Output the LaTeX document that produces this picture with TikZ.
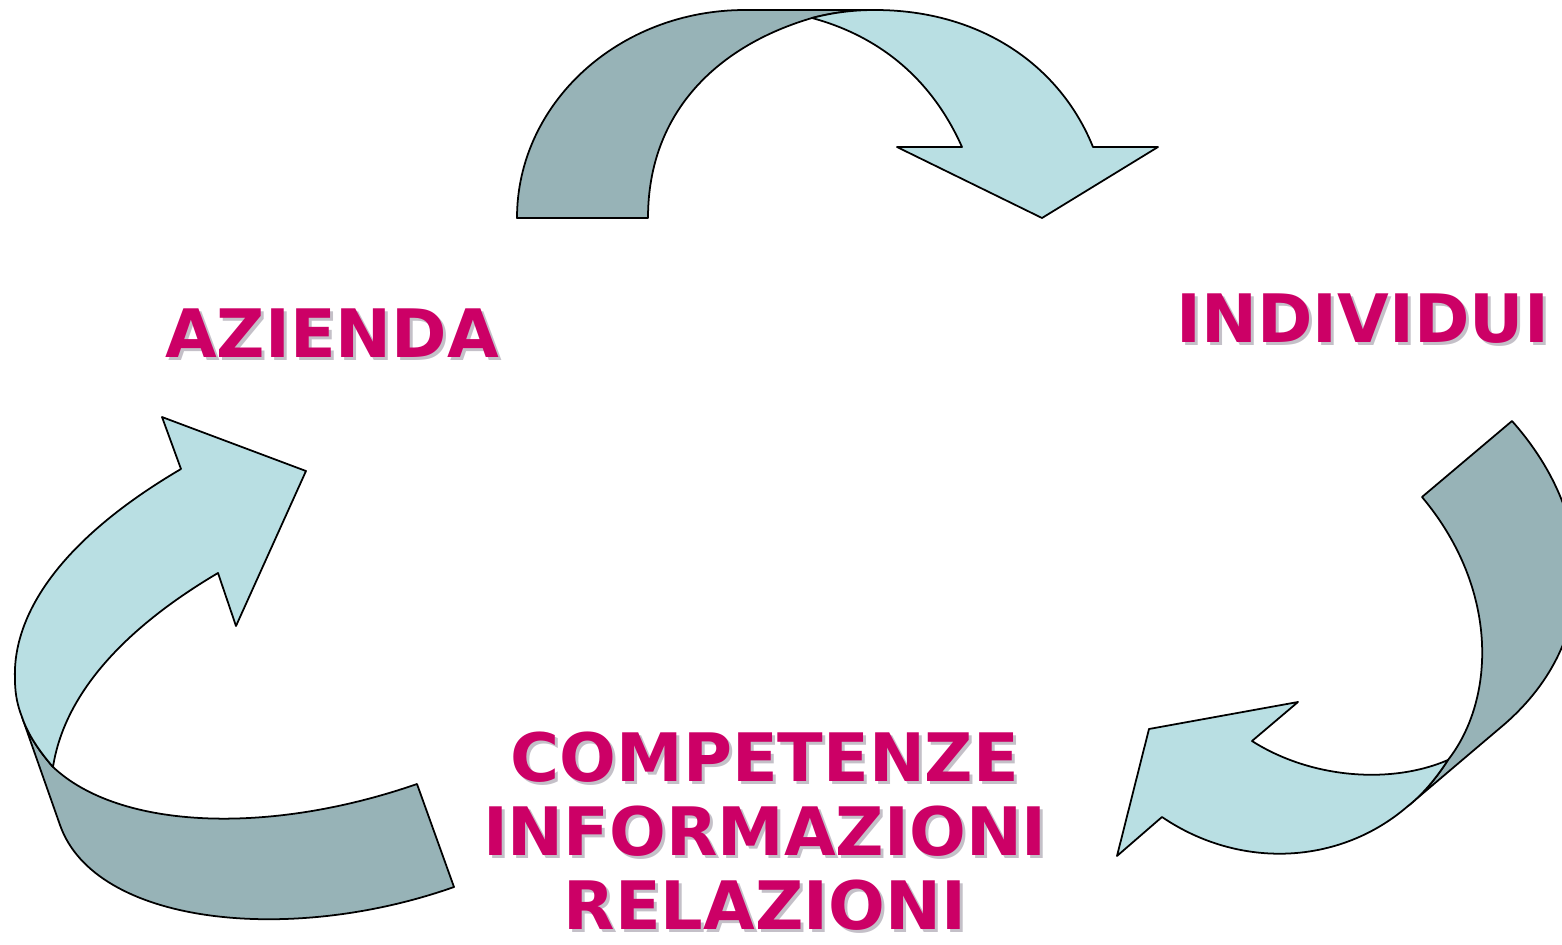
\documentclass[tikz,border=0pt]{standalone}
\usepackage{fontspec}
\setmainfont{DejaVu Sans}
\usepackage{xcolor}
\usepackage{tikz}
\usetikzlibrary{positioning, calc}

\definecolor{ribbonlight}{HTML}{B9DFE3}
\definecolor{ribbondark}{HTML}{97B3B7}
\definecolor{labelpink}{HTML}{CC0066}
\definecolor{labelshade}{HTML}{C4C0C8}

\begin{document}
\begin{tikzpicture}[x=0.01cm, y=-0.01cm,
    dark/.style={draw=black, line width=0.5pt, fill=ribbondark, line join=round},
    light/.style={draw=black, line width=0.5pt, fill=ribbonlight, line join=round},
    lbl/.style={text=labelpink, font=\fontsize{19}{21}\selectfont\bfseries, align=center, inner sep=0pt, text depth=0pt},
    lblshade/.style={lbl, text=labelshade, xshift=0.03cm, yshift=-0.03cm}
]
    \useasboundingbox (0,0) rectangle (1562,945);

    % top arrow: azienda -> individui
    \draw[dark] (517,218) .. controls (517,103) and (619,10) .. (745,10) -- (875,10)
        .. controls (855,10) and (835,12) .. (812,18)
        .. controls (720,45) and (648,110) .. (648,218) -- cycle;
    \draw[light] (875,10) .. controls (980,10) and (1060,65) .. (1093,147)
        -- (1158,147) -- (1042,218) -- (897,147) -- (962,147)
        .. controls (930,75) and (875,35) .. (812,18)
        .. controls (835,12) and (855,10) .. (875,10) -- cycle;

    % right arrow: individui -> competenze
    \draw[dark] (1512,421) -- (1422,497)
        .. controls (1500,590) and (1495,700) .. (1448,760)
        .. controls (1435,780) and (1422,795) .. (1408,806)
        -- (1500,728) .. controls (1600,645) and (1600,520) .. (1512,421) -- cycle;
    \draw[light] (1408,806) .. controls (1340,865) and (1240,870) .. (1162,817)
        -- (1117,856) -- (1149,729) -- (1298,702) -- (1252,741)
        .. controls (1310,778) and (1390,785) .. (1448,760)
        .. controls (1435,780) and (1422,795) .. (1408,806) -- cycle;

    % left arrow: competenze -> azienda
    \draw[dark] (22,717) -- (60,825) .. controls (95,925) and (290,945) .. (454,887)
        -- (417,784) .. controls (270,835) and (120,830) .. (53,767)
        .. controls (40,752) and (28,735) .. (22,717) -- cycle;
    \draw[light] (53,767) .. controls (65,690) and (130,625) .. (218,573)
        -- (236,626) -- (306,471) -- (162,417) -- (181,469)
        .. controls (60,540) and (12,615) .. (15,680)
        .. controls (15,695) and (18,707) .. (22,717)
        .. controls (28,735) and (40,752) .. (53,767) -- cycle;

    % labels
    \node[lblshade, anchor=base] (azienda-sh) at (332,357) {AZIENDA};
    \node[lbl, anchor=base] (azienda) at (332,357) {AZIENDA};

    \node[lblshade, anchor=base west] (individui-sh) at (1176,342) {INDIVIDUI};
    \node[lbl, anchor=base west] (individui) at (1176,342) {INDIVIDUI};

    \node[lblshade, anchor=base] (competenze-sh) at (765,929) {COMPETENZE\\INFORMAZIONI\\RELAZIONI};
    \node[lbl, anchor=base] (competenze) at (765,929) {COMPETENZE\\INFORMAZIONI\\RELAZIONI};
\end{tikzpicture}
\end{document}
